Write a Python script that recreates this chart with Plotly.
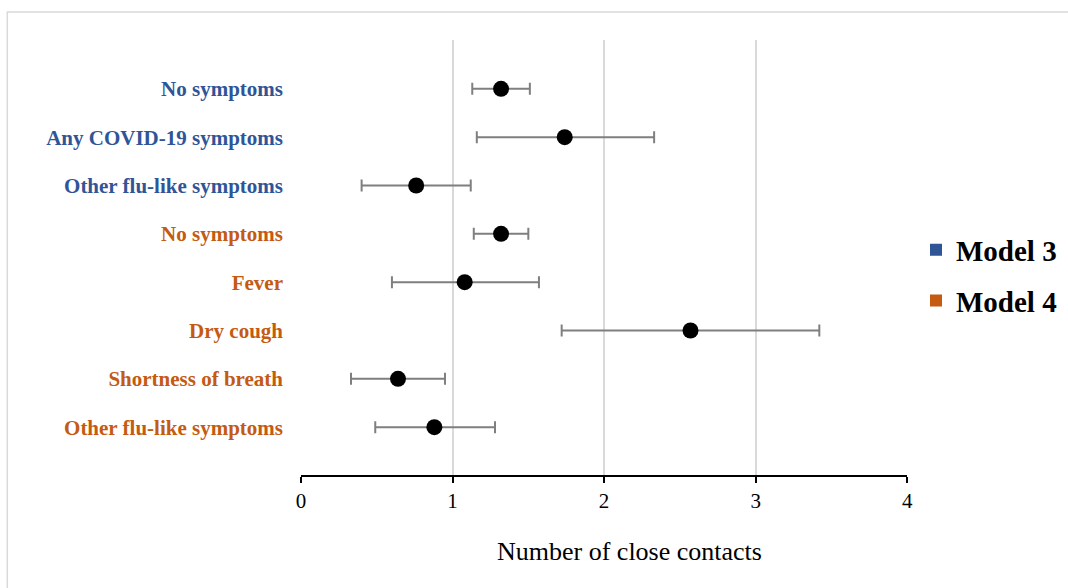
import plotly.graph_objects as go

# estimates (number of close contacts)
labels = ["No symptoms", "Any COVID-19 symptoms", "Other flu-like symptoms",
          "No symptoms", "Fever", "Dry cough", "Shortness of breath",
          "Other flu-like symptoms"]
model = ["Model 3", "Model 3", "Model 3",
         "Model 4", "Model 4", "Model 4", "Model 4", "Model 4"]
estimate = [1.32, 1.74, 0.76, 1.32, 1.08, 2.57, 0.64, 0.88]
ci_low = [1.13, 1.16, 0.40, 1.14, 0.60, 1.72, 0.33, 0.49]
ci_high = [1.51, 2.33, 1.12, 1.50, 1.57, 3.42, 0.95, 1.28]

colors = {"Model 3": "#2F5597", "Model 4": "#C55A11"}
serif = "Liberation Serif, Times New Roman, serif"

rows = list(range(len(labels)))
ticktext = [f"<span style='color:{colors[m]}'><b>{t}</b></span>" for t, m in zip(labels, model)]

# paper spans from the left margin to the right edge, the axes only use part of it
W = 1068 - 301
H = 435


def px(x):
    return (x - 301) / W


fig = go.Figure()
fig.add_trace(go.Scatter(
    x=estimate, y=rows, mode="markers",
    marker=dict(color="black", size=16),
    error_x=dict(type="data", symmetric=False,
                 array=[h - e for h, e in zip(ci_high, estimate)],
                 arrayminus=[e - l for e, l in zip(estimate, ci_low)],
                 color="#7F7F7F", thickness=2, width=6),
    showlegend=False, hoverinfo="x+y"))

# legend entries
for m in ["Model 3", "Model 4"]:
    fig.add_trace(go.Scatter(
        x=[None], y=[None], mode="markers", name=f"<b>{m}</b>",
        legendgroup=m,
        marker=dict(symbol="square", size=12, color=colors[m])))

fig.update_layout(
    width=1068, height=588,
    margin=dict(l=301, r=0, t=40, b=113),
    plot_bgcolor="white", paper_bgcolor="white",
    font=dict(family=serif, color="black"),
    legend=dict(x=1, y=0.459, xanchor="right", yanchor="middle",
                font=dict(family=serif, size=29),
                tracegroupgap=10, itemwidth=30),
    xaxis=dict(domain=[0, px(912)], range=[0, 4], tickvals=[0, 1, 2, 3, 4],
               showgrid=True, gridcolor="#D9D9D9", gridwidth=1.5,
               zeroline=False, showline=True, linecolor="black", linewidth=2,
               ticks="outside", ticklen=6, tickwidth=2, tickcolor="black",
               tickfont=dict(family=serif, size=21)),
    yaxis=dict(range=[7.99, -1.01], tickvals=rows, ticktext=ticktext,
               showgrid=False, zeroline=False, showline=False, ticks="",
               ticklabelstandoff=17,
               tickfont=dict(family=serif, size=21)),
)

fig.add_annotation(text="Number of close contacts", xref="paper", yref="paper",
                   x=px(632), y=-0.175, xanchor="center", yanchor="middle",
                   showarrow=False, font=dict(family=serif, size=26, color="black"))

# light frame around the chart
fig.add_shape(type="rect", xref="paper", yref="paper",
              x0=px(5), x1=px(1075),
              y0=-(600 - 475) / H, y1=1 + (40 - 12) / H,
              line=dict(color="#D9D9D9", width=1.5), layer="below")

fig.write_html("out.html", config={"displayModeBar": False},
               post_script="document.body.style.margin='0px';")
